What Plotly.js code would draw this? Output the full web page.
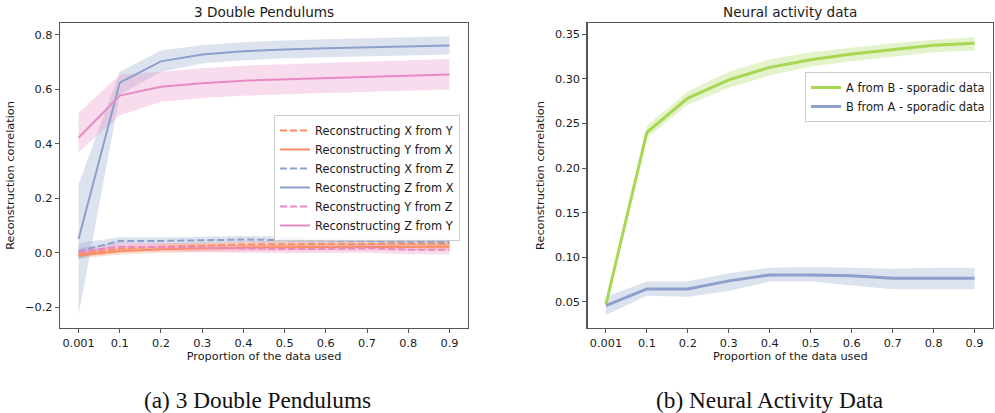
<!DOCTYPE html>
<html>
<head>
<meta charset="utf-8">
<script src="https://cdn.plot.ly/plotly-3.0.1.min.js"></script>
<style>html,body{margin:0;padding:0;background:#fff;}#chart{width:995px;height:413px;}</style>
</head>
<body>
<div id="chart"></div>
<script>
// ---- data ----
const xLabels = ['0.001','0.1','0.2','0.3','0.4','0.5','0.6','0.7','0.8','0.9'];

// (a) 3 Double Pendulums
const xFromY   = [-0.005, 0.015, 0.022, 0.027, 0.030, 0.031, 0.032, 0.032, 0.033, 0.033];
const xFromYLo = [-0.018, 0.003, 0.010, 0.015, 0.018, 0.019, 0.020, 0.020, 0.021, 0.021];
const xFromYHi = [ 0.008, 0.027, 0.034, 0.039, 0.042, 0.043, 0.044, 0.044, 0.045, 0.045];

const yFromX   = [-0.010, 0.005, 0.012, 0.016, 0.018, 0.020, 0.021, 0.022, 0.022, 0.022];
const yFromXLo = [-0.022, -0.007, 0.000, 0.004, 0.006, 0.008, 0.009, 0.010, 0.008, 0.008];
const yFromXHi = [ 0.002, 0.017, 0.024, 0.028, 0.030, 0.032, 0.033, 0.034, 0.034, 0.034];

const xFromZ   = [0.005, 0.043, 0.043, 0.045, 0.048, 0.046, 0.044, 0.042, 0.040, 0.039];
const xFromZLo = [-0.025, 0.031, 0.031, 0.033, 0.036, 0.034, 0.032, 0.030, 0.028, 0.027];
const xFromZHi = [0.035, 0.057, 0.056, 0.058, 0.061, 0.059, 0.057, 0.055, 0.053, 0.052];

const zFromX   = [0.050, 0.625, 0.703, 0.728, 0.740, 0.747, 0.751, 0.755, 0.758, 0.761];
const zFromXLo = [-0.230, 0.580, 0.665, 0.695, 0.707, 0.714, 0.718, 0.722, 0.725, 0.728];
const zFromXHi = [0.250, 0.665, 0.743, 0.762, 0.773, 0.780, 0.784, 0.788, 0.791, 0.795];

const yFromZ   = [0.002, 0.022, 0.020, 0.018, 0.015, 0.013, 0.014, 0.016, 0.011, 0.011];
const yFromZLo = [-0.013, 0.007, 0.005, 0.003, 0.000, -0.002, -0.001, 0.000, -0.006, -0.006];
const yFromZHi = [0.017, 0.037, 0.035, 0.033, 0.030, 0.028, 0.029, 0.031, 0.026, 0.026];

const zFromY   = [0.422, 0.577, 0.610, 0.623, 0.632, 0.637, 0.642, 0.647, 0.651, 0.655];
const zFromYLo = [0.369, 0.504, 0.555, 0.568, 0.577, 0.582, 0.587, 0.592, 0.596, 0.600];
const zFromYHi = [0.514, 0.654, 0.665, 0.678, 0.687, 0.692, 0.697, 0.702, 0.706, 0.712];

// (b) Neural activity data
const aFromB   = [0.047, 0.240, 0.2785, 0.299, 0.313, 0.3216, 0.328, 0.333, 0.3377, 0.340];
const aFromBLo = [0.044, 0.2336, 0.271, 0.290, 0.304, 0.314, 0.320, 0.325, 0.330, 0.332];
const aFromBHi = [0.050, 0.2474, 0.286, 0.308, 0.322, 0.330, 0.335, 0.340, 0.344, 0.347];

const bFromA   = [0.0455, 0.0643, 0.0643, 0.0733, 0.080, 0.080, 0.079, 0.0763, 0.0763, 0.0763];
const bFromALo = [0.0351, 0.0565, 0.0555, 0.062, 0.0725, 0.073, 0.068, 0.064, 0.064, 0.064];
const bFromAHi = [0.0556, 0.0725, 0.073, 0.082, 0.088, 0.089, 0.088, 0.087, 0.088, 0.088];

// ---- styling ----
const ORANGE = '#fc8d62', BLUE = '#8da0cb', PINK = '#e78ac3', GREEN = '#a6d854';
function rgba(hex, a){
  const n = parseInt(hex.slice(1),16);
  return `rgba(${(n>>16)&255},${(n>>8)&255},${n&255},${a})`;
}
const xRev = xLabels.slice().reverse();

function band(lo, hi, color, xa, ya){
  return {
    x: xLabels.concat(xRev), y: hi.concat(lo.slice().reverse()),
    xaxis: xa, yaxis: ya, type: 'scatter', mode: 'lines', fill: 'toself',
    fillcolor: rgba(color, 0.3), line: {width: 0, color: 'rgba(0,0,0,0)'},
    hoverinfo: 'skip', showlegend: false
  };
}
function line(y, name, color, dash, width, xa, ya, legend){
  return {
    x: xLabels, y: y, name: name, xaxis: xa, yaxis: ya, type: 'scatter', mode: 'lines',
    line: {color: color, width: width, dash: dash}, legend: legend
  };
}

const leftSeries = [
  [xFromY, xFromYLo, xFromYHi, 'Reconstructing X from Y', ORANGE, '7px,3px'],
  [yFromX, yFromXLo, yFromXHi, 'Reconstructing Y from X', ORANGE, 'solid'],
  [xFromZ, xFromZLo, xFromZHi, 'Reconstructing X from Z', BLUE, '7px,3px'],
  [zFromX, zFromXLo, zFromXHi, 'Reconstructing Z from X', BLUE, 'solid'],
  [yFromZ, yFromZLo, yFromZHi, 'Reconstructing Y from Z', PINK, '7px,3px'],
  [zFromY, zFromYLo, zFromYHi, 'Reconstructing Z from Y', PINK, 'solid']
];
const rightSeries = [
  [aFromB, aFromBLo, aFromBHi, 'A from B - sporadic data', GREEN],
  [bFromA, bFromALo, bFromAHi, 'B from A - sporadic data', BLUE]
];

const traces = [];
leftSeries.forEach(s => traces.push(band(s[1], s[2], s[4], 'x', 'y')));
leftSeries.forEach(s => traces.push(line(s[0], s[3], s[4], s[5], 2, 'x', 'y', 'legend')));
rightSeries.forEach(s => traces.push(band(s[1], s[2], s[4], 'x2', 'y2')));
rightSeries.forEach(s => traces.push(line(s[0], s[3], s[4], 'solid', 3, 'x2', 'y2', 'legend2')));

const FONT = 'DejaVu Sans, sans-serif';
const TXT = '#1a1a1a';
function xaxis(domain, anchor){
  return {
    domain: domain, anchor: anchor, type: 'category', range: [-0.45, 9.45],
    tickvals: xLabels, ticktext: xLabels,
    showline: true, mirror: true, linecolor: '#555', linewidth: 1.2,
    ticks: 'outside', ticklen: 4, tickcolor: '#555', showgrid: false, zeroline: false,
    tickfont: {family: FONT, size: 11.3, color: TXT},
    title: {text: 'Proportion of the data used', font: {family: FONT, size: 11.3, color: TXT}, standoff: 3}
  };
}
function yaxis(domain, anchor, range, tickvals, ticktext){
  return {
    domain: domain, anchor: anchor, range: range, tickvals: tickvals, ticktext: ticktext,
    showline: true, mirror: true, linecolor: '#555', linewidth: 1.2,
    ticks: 'outside', ticklen: 4, tickcolor: '#555', showgrid: false, zeroline: false,
    tickfont: {family: FONT, size: 11.3, color: TXT},
    title: {text: 'Reconstruction correlation', font: {family: FONT, size: 11.3, color: TXT}, standoff: 8}
  };
}

const layout = {
  width: 995, height: 413,
  margin: {l: 0, r: 0, t: 0, b: 0},
  paper_bgcolor: '#fff', plot_bgcolor: '#fff',
  showlegend: true,
  xaxis: xaxis([60/995, 468/995], 'y'),
  yaxis: yaxis([85/413, 390/413], 'x', [-0.277, 0.844],
    [-0.2, 0, 0.2, 0.4, 0.6, 0.8], ['\u22120.2', '0.0', '0.2', '0.4', '0.6', '0.8']),
  xaxis2: xaxis([587.5/995, 993/995], 'y2'),
  yaxis2: yaxis([85/413, 390/413], 'x2', [0.0204, 0.3628],
    [0.05, 0.10, 0.15, 0.20, 0.25, 0.30, 0.35], ['0.05', '0.10', '0.15', '0.20', '0.25', '0.30', '0.35']),
  legend: {
    x: 460/995, y: (413-115)/413, xanchor: 'right', yanchor: 'top',
    bgcolor: 'rgba(255,255,255,0.85)', bordercolor: '#cccccc', borderwidth: 1,
    font: {family: FONT, size: 11.4, color: TXT}, tracegroupgap: 0, itemwidth: 30
  },
  legend2: {
    x: 991/995, y: (413-72)/413, xanchor: 'right', yanchor: 'top',
    bgcolor: 'rgba(255,255,255,0.85)', bordercolor: '#cccccc', borderwidth: 1,
    font: {family: FONT, size: 11.4, color: TXT}, itemwidth: 30
  },
  annotations: [
    {text: '3 Double Pendulums', x: 264/995, y: (413-12)/413, xref: 'paper', yref: 'paper',
     showarrow: false, xanchor: 'center', yanchor: 'middle', font: {family: FONT, size: 13.6, color: TXT}},
    {text: 'Neural activity data', x: 790/995, y: (413-12)/413, xref: 'paper', yref: 'paper',
     showarrow: false, xanchor: 'center', yanchor: 'middle', font: {family: FONT, size: 13.6, color: TXT}},
    {text: '(a) 3 Double Pendulums', x: 257/995, y: (413-400)/413, xref: 'paper', yref: 'paper',
     showarrow: false, xanchor: 'center', yanchor: 'middle', font: {family: 'Liberation Serif, serif', size: 23.3, color: '#111'}},
    {text: '(b) Neural Activity Data', x: 770/995, y: (413-400)/413, xref: 'paper', yref: 'paper',
     showarrow: false, xanchor: 'center', yanchor: 'middle', font: {family: 'Liberation Serif, serif', size: 23.3, color: '#111'}}
  ]
};

Plotly.newPlot('chart', traces, layout, {displayModeBar: false, staticPlot: true});
</script>
</body>
</html>
